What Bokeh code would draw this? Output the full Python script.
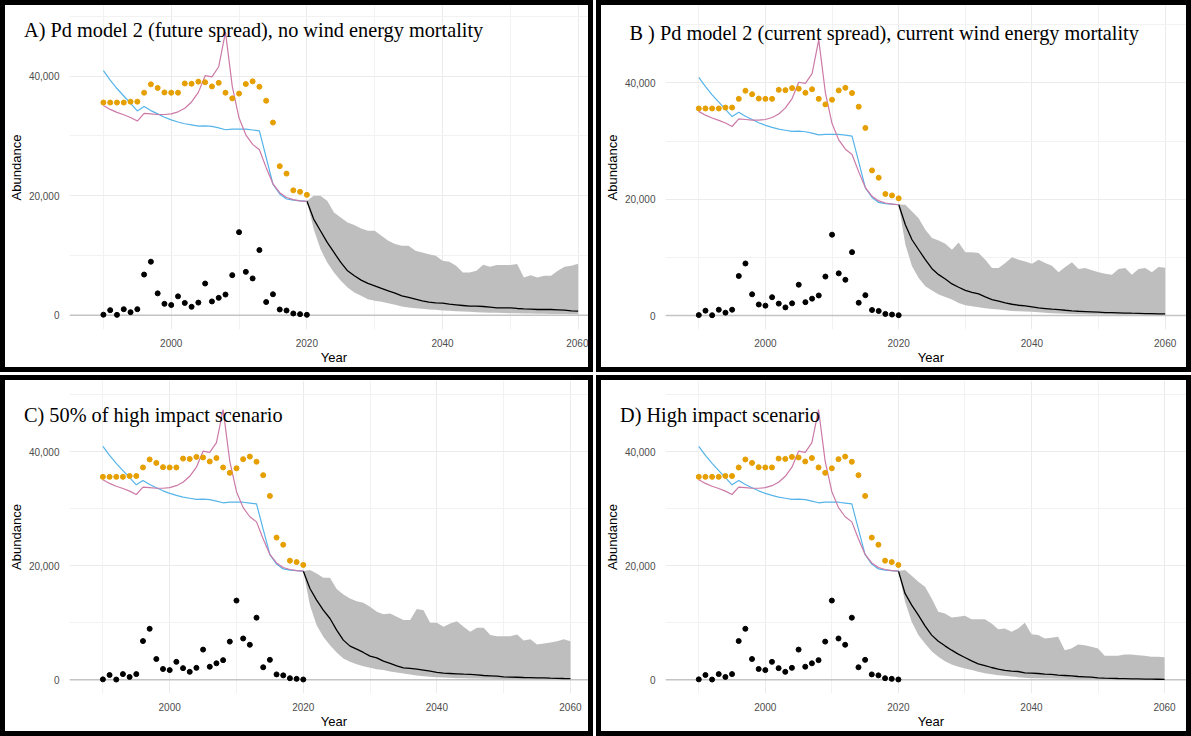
from bokeh.plotting import figure
from bokeh.layouts import column, row
from bokeh.models import FixedTicker, NumeralTickFormatter, Span, Div
from bokeh.embed import file_html
from bokeh.resources import INLINE

# ---------------- data ----------------
hist_years = list(range(1990, 2021))
proj_years = list(range(2020, 2061))

observed_abundance = [35600, 35600, 35600, 35600, 35750, 35750, 37250, 38650, 38050, 37300,
                      37250, 37250, 38800, 38750, 39100, 39000, 38300, 38900, 37250, 36300,
                      37100, 38700, 39150, 38250, 35900, 32250, 24950, 23700, 20900, 20650, 20150]

fatalities = [80, 840, 50, 1000, 500, 1000, 6800, 8950, 3650, 1900,
              1700, 3150, 2050, 1400, 2100, 5300, 2300, 2900, 3450, 6700,
              13900, 7250, 6150, 10900, 2200, 3500, 950, 780, 280, 170, 60]

model_blue = [40950, 39350, 37950, 36700, 35450, 34200, 34950, 34250, 33700, 33150,
              32700, 32350, 32050, 31850, 31650, 31700, 31600, 31350, 31050, 31150,
              31150, 31150, 31000, 30850, 26400, 21950, 20300, 19450, 19250, 19150, 19050]

model_pink = [35100, 34450, 33950, 33550, 33100, 32500, 33800, 33700, 33600, 33600,
              33700, 34050, 34650, 35700, 37300, 40100, 39900, 41600, 47400, 38300,
              33000, 30200, 28600, 27700, 24700, 22000, 20500, 19700, 19350, 19150, 19050]

A_mean = [19100, 16090, 14130, 12180, 10500, 8830, 7430, 6590, 5870, 5310,
          4920, 4470, 4080, 3690, 3240, 2960, 2680, 2400, 2180, 2070,
          2010, 1840, 1730, 1620, 1510, 1510, 1450, 1340, 1230, 1230,
          1230, 1120, 1060, 1010, 950, 950, 950, 900, 840, 730, 670]
A_upper = [19100, 20000, 20000, 19160, 17210, 16370, 15530, 15080, 14530, 14130,
           14130, 13300, 12460, 11900, 11620, 11620, 10780, 10500, 10220, 9940,
           9110, 8940, 8270, 7150, 7150, 7430, 8440, 8100, 8380, 8380,
           8380, 8550, 6310, 6700, 6310, 6590, 6590, 7430, 8100, 8270, 8600]
A_lower = [19100, 14410, 11060, 8830, 7150, 5750, 4640, 3800, 3240, 2680,
           2400, 2230, 2010, 1730, 1450, 1290, 1170, 1060, 950, 890,
           780, 730, 670, 610, 560, 500, 450, 420, 390, 360,
           330, 300, 280, 260, 240, 220, 200, 190, 180, 170, 160]

B_mean = [19100, 15600, 13030, 11310, 9600, 8060, 7030, 6290, 5430, 4860,
          4340, 4000, 3710, 3200, 2740, 2460, 2170, 1940, 1770, 1660,
          1490, 1310, 1200, 1090, 1030, 910, 800, 740, 690, 630,
          570, 510, 490, 460, 430, 400, 380, 340, 320, 290, 280]
B_upper = [19100, 19030, 17890, 16740, 14740, 13310, 12910, 12340, 11310, 12570,
           10860, 10860, 10740, 9600, 8170, 8170, 9030, 10000, 9600, 9310,
           8910, 9600, 9030, 8570, 7430, 8340, 9140, 8000, 8170, 7770,
           7430, 7200, 7030, 8000, 8170, 7030, 8000, 8170, 7430, 8340, 8230]
B_lower = [19100, 12200, 8460, 6460, 5030, 4290, 3600, 3200, 2740, 2170,
           1770, 1600, 1430, 1260, 1140, 1030, 910, 800, 740, 690,
           630, 570, 460, 400, 340, 290, 260, 240, 220, 200,
           190, 170, 160, 150, 140, 130, 120, 115, 110, 105, 100]

C_mean = [19100, 16020, 13980, 12220, 10760, 8710, 6960, 5910, 5380, 4800,
          4150, 3860, 3270, 2870, 2460, 2110, 1990, 1870, 1700, 1520,
          1290, 1170, 1110, 1050, 990, 940, 880, 760, 700, 640,
          530, 470, 450, 410, 390, 350, 330, 290, 270, 230, 220]
C_upper = [19100, 19240, 18650, 17900, 17900, 15910, 14970, 14270, 13800, 13510,
           12810, 11930, 11520, 11640, 11050, 10470, 10470, 12400, 12220, 10000,
           10000, 9300, 9880, 10290, 9300, 8420, 9120, 9120, 7840, 7660,
           7660, 7660, 7950, 6900, 7130, 6200, 6370, 6550, 6780, 7130, 6780]
C_lower = [19100, 13100, 9590, 7540, 6080, 4800, 3740, 3160, 2750, 2400,
           2110, 1870, 1700, 1460, 1290, 1110, 940, 760, 640, 530,
           470, 410, 350, 290, 260, 230, 210, 190, 170, 160,
           150, 140, 130, 120, 110, 100, 95, 90, 85, 80, 80]

D_mean = [19100, 15150, 13100, 11350, 9470, 7840, 6780, 5960, 5200, 4500,
          3920, 3330, 2810, 2510, 2160, 1870, 1640, 1520, 1460, 1230,
          1170, 1110, 990, 940, 820, 760, 700, 580, 530, 470,
          350, 290, 270, 230, 210, 180, 160, 120, 110, 100, 60]
D_upper = [19100, 19240, 18240, 17190, 16320, 14270, 11930, 11640, 10940, 11050,
           11230, 10640, 10640, 10640, 9880, 8890, 9010, 8420, 9010, 10000,
           8010, 7840, 7250, 7370, 7540, 5200, 5500, 6200, 6080, 5790,
           5500, 4210, 4210, 4210, 4440, 4440, 4330, 4210, 4040, 4040, 3980]
D_lower = [19100, 13680, 10180, 7840, 6370, 5030, 4040, 3270, 2690, 2280,
           1990, 1700, 1400, 1170, 990, 820, 700, 580, 470, 350,
           290, 260, 240, 220, 200, 180, 160, 150, 130, 120,
           110, 100, 90, 80, 75, 70, 65, 60, 55, 50, 50]

panel_titles = [
    "A) Pd model 2 (future spread), no wind energy mortality",
    "B ) Pd model 2 (current spread), current wind energy mortality",
    "C) 50% of high impact scenario",
    "D) High impact scenario",
]
panel_series = [
    (A_mean, A_lower, A_upper),
    (B_mean, B_lower, B_upper),
    (C_mean, C_lower, C_upper),
    (D_mean, D_lower, D_upper),
]

x_ticks = [2000, 2020, 2040, 2060]
x_minor = [1990, 2010, 2030, 2050]
y_ticks = [0, 20000, 40000]
y_minor = [10000, 30000, 50000]

# ---------------- layout (per panel) ----------------
panel_layout = [
    dict(width=593, height=372, left=57, bottom=48, xr=(1985, 2063.0), yr=(-2400, 51850)),
    dict(width=595, height=372, left=54, bottom=47, xr=(1985, 2064.7), yr=(-2400, 53300)),
    dict(width=593, height=361, left=56, bottom=48, xr=(1985, 2064.2), yr=(-2400, 52500)),
    dict(width=595, height=361, left=54, bottom=48, xr=(1985, 2064.8), yr=(-2400, 52500)),
]
# page position (left, top) of each panel title
title_pos = [(19, 14.7), (624.5, 18), (19, 399.5), (615, 399.5)]

ORANGE = "#E69F00"
BLUE = "#56B4E9"
PINK = "#CC79A7"
RIBBON = "#BEBEBE"


def make_panel(series, lay):
    mean, lower, upper = series
    p = figure(width=lay["width"], height=lay["height"], x_range=lay["xr"], y_range=lay["yr"],
               output_backend="svg", toolbar_location=None,
               min_border_left=lay["left"], min_border_right=0, min_border_top=0,
               min_border_bottom=lay["bottom"])
    p.styles = {"border": "5px solid black"}
    p.outline_line_color = None
    p.background_fill_color = "white"
    p.border_fill_color = "white"

    p.xaxis.ticker = FixedTicker(ticks=x_ticks, minor_ticks=x_minor)
    p.yaxis.ticker = FixedTicker(ticks=y_ticks, minor_ticks=y_minor)
    p.yaxis.formatter = NumeralTickFormatter(format="0,0")
    p.axis.axis_line_color = None
    p.axis.major_tick_line_color = None
    p.axis.minor_tick_line_color = None
    p.axis.major_label_text_font = "Liberation Sans"
    p.axis.major_label_text_font_size = "10px"
    p.axis.major_label_text_color = "#4D4D4D"
    p.xaxis.major_label_standoff = 3
    p.yaxis.major_label_standoff = 4
    p.xaxis.axis_label = "Year"
    p.yaxis.axis_label = "Abundance"
    p.axis.axis_label_text_font = "Liberation Sans"
    p.axis.axis_label_text_font_size = "13px"
    p.axis.axis_label_text_font_style = "normal"
    p.axis.axis_label_text_color = "black"
    p.xaxis.axis_label_standoff = 0
    p.yaxis.axis_label_standoff = 2

    p.grid.grid_line_color = "#EBEBEB"
    p.grid.grid_line_width = 1
    p.grid.minor_grid_line_color = "#F2F2F2"
    p.grid.minor_grid_line_width = 1

    p.add_layout(Span(location=0, dimension="width", line_color="#C4C4C4",
                      line_width=1.5, level="underlay"))

    p.varea(x=proj_years, y1=lower, y2=upper, fill_color=RIBBON)
    p.line(proj_years, mean, line_color="black", line_width=1.3)
    p.line(hist_years, model_blue, line_color=BLUE, line_width=1.2)
    p.line(hist_years, model_pink, line_color=PINK, line_width=1.2)
    p.scatter(hist_years, observed_abundance, size=5, color=ORANGE)
    p.scatter(hist_years, fatalities, size=5, color="black")
    return p


def make_title(text, pos):
    css = (":host { position: absolute !important; left: %spx !important; top: %spx !important; "
           "z-index: 10 !important; } div { white-space: nowrap; }" % (pos[0], pos[1]))
    return Div(text=text, width=600, height=24, stylesheets=[css],
               styles={"font-family": "'Liberation Serif', 'Times New Roman', serif",
                       "font-size": "20.3px", "line-height": "1", "color": "black",
                       "white-space": "nowrap"})


figs = [make_panel(s, l) for s, l in zip(panel_series, panel_layout)]
titles = [make_title(t, pos) for t, pos in zip(panel_titles, title_pos)]

grid = column(row(figs[0], figs[1], spacing=3), row(figs[2], figs[3], spacing=3), spacing=3)
layout = column(*titles, grid)

open("out.html", "w").write(file_html(layout, INLINE))
